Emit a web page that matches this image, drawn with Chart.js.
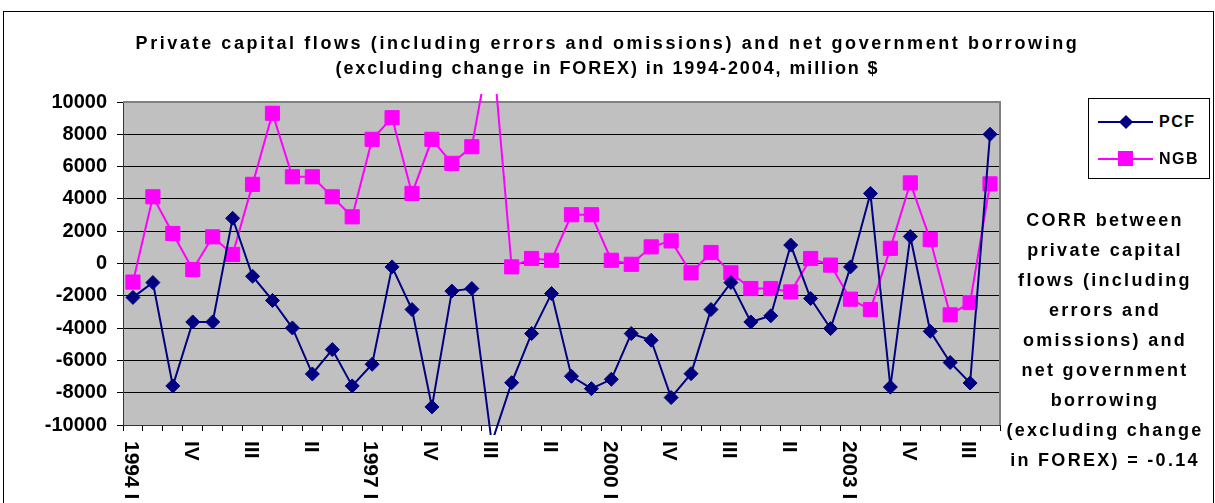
<!DOCTYPE html>
<html>
<head>
<meta charset="utf-8">
<script src="https://cdn.jsdelivr.net/npm/chart.js@4.4.0/dist/chart.umd.min.js"></script>
<style>
  html, body { margin: 0; padding: 0; background: #fff; }
  body { width: 1215px; height: 503px; position: relative; overflow: hidden;
         font-family: 'Liberation Sans', Arial, sans-serif; font-weight: bold; color: #000; }
  #frame { position: absolute; left: 3px; top: 11px; width: 1209px; height: 500px; border: 1px solid #000; }
  #chart { position: absolute; left: 0; top: 0; }
  #title { position: absolute; left: 0; top: 31px; width: 1215px; text-align: center;
           font-size: 18px; line-height: 25px; white-space: nowrap; }
  #title .l1 { letter-spacing: 2.6px; }
  #title .l2 { letter-spacing: 1.9px; }
  #legend { position: absolute; left: 1088px; top: 98px; width: 120px; height: 79px;
            border: 1px solid #000; background: #fff; }
  .item { position: absolute; left: 0; width: 120px; height: 20px; }
  .item .ln { position: absolute; left: 9px; top: 9px; width: 55px; height: 2px; }
  .item .mk { position: absolute; }
  .item .tx { position: absolute; left: 70px; top: 0; font-size: 16px; line-height: 20px; letter-spacing: 1.5px; }
  #corr { position: absolute; left: 1005px; top: 205px; width: 200px; text-align: center;
          font-size: 18px; line-height: 30px; letter-spacing: 2.3px; white-space: nowrap; }
</style>
</head>
<body>
<div id="frame"></div>
<canvas id="chart" width="1215" height="503"></canvas>
<div id="title"><span class="l1">Private capital flows (including errors and omissions) and net government borrowing</span><br><span class="l2">(excluding change in FOREX) in 1994-2004, million $</span></div>
<div id="legend">
  <div class="item" style="top:13px">
    <div class="ln" style="background:#000080"></div>
    <div class="mk" style="left:32px;top:5px;width:10px;height:10px;background:#000080;transform:rotate(45deg)"></div>
    <div class="tx">PCF</div>
  </div>
  <div class="item" style="top:50px">
    <div class="ln" style="background:#ff00ff"></div>
    <div class="mk" style="left:29px;top:2px;width:15px;height:15px;background:#ff00ff"></div>
    <div class="tx">NGB</div>
  </div>
</div>
<div id="corr">CORR between<br>private capital<br>flows (including<br>errors and<br>omissions) and<br>net government<br>borrowing<br>(excluding change<br>in FOREX) = -0.14</div>
<script>
// quarters 1994 I .. 2004 IV
const quarters = [
  '1994 I', 'II', 'III', 'IV',
  '1995 I', 'II', 'III', 'IV',
  '1996 I', 'II', 'III', 'IV',
  '1997 I', 'II', 'III', 'IV',
  '1998 I', 'II', 'III', 'IV',
  '1999 I', 'II', 'III', 'IV',
  '2000 I', 'II', 'III', 'IV',
  '2001 I', 'II', 'III', 'IV',
  '2002 I', 'II', 'III', 'IV',
  '2003 I', 'II', 'III', 'IV',
  '2004 I', 'II', 'III', 'IV'
];

// private capital flows, million $
const pcf = [
  -2100, -1180, -7580, -3620, -3620, 2800, -790, -2290, -3990, -6840, -5330,
  -7580, -6240, -210, -2850, -8880, -1710, -1550, -11100, -7380, -4340, -1860,
  -6980, -7750, -7170, -4340, -4750, -8300, -6820, -2850, -1180, -3620, -3240,
  1140, -2170, -4030, -210, 4340, -7650, 1670, -4200, -6130, -7400, 8000
];

// net government borrowing, million $
const ngb = [
  -1150, 4130, 1860, -370, 1650, 560, 4900, 9300, 5370, 5370, 4130,
  2890, 7690, 9030, 4340, 7690, 6200, 7230, 14000, -210, 310, 200,
  3020, 3020, 200, -50, 1030, 1400, -580, 680, -580, -1550, -1550,
  -1760, 310, -100, -2210, -2850, 940, 4990, 1480, -3180, -2420, 4930
];

const yMin = -10000, yMax = 10000, yStep = 2000;
const labelEvery = 3;

// grey plot area, frame, and the vertical quarter labels
const plotFrame = {
  id: 'plotFrame',
  beforeDraw(chart) {
    const { ctx, chartArea: a } = chart;
    ctx.save();
    ctx.fillStyle = '#c0c0c0';
    ctx.fillRect(a.left, a.top, a.right - a.left, a.bottom - a.top);
    ctx.restore();
  },
  beforeDatasetsDraw(chart) {
    const { ctx, chartArea: a } = chart;
    ctx.save();
    ctx.strokeStyle = '#808080';
    ctx.lineWidth = 2;
    ctx.beginPath();
    ctx.moveTo(a.left, a.top);
    ctx.lineTo(a.right, a.top);
    ctx.lineTo(a.right, a.bottom);
    ctx.stroke();
    ctx.restore();
  },
  afterDraw(chart) {
    const { ctx } = chart;
    const xs = chart.scales.x;
    ctx.save();
    ctx.fillStyle = '#000';
    ctx.font = 'bold 21px "Liberation Sans", Arial, sans-serif';
    ctx.textAlign = 'left';
    ctx.textBaseline = 'middle';
    quarters.forEach((q, i) => {
      if (i % labelEvery !== 0) return;
      const x = xs.getPixelForValue(i);
      ctx.save();
      ctx.translate(x - 2, xs.top + 16);
      ctx.rotate(Math.PI / 2);
      ctx.fillText(q, 0, 0);
      ctx.restore();
    });
    ctx.restore();
  }
};

new Chart(document.getElementById('chart'), {
  type: 'line',
  data: {
    labels: quarters,
    datasets: [
      {
        label: 'PCF', data: pcf,
        borderColor: '#000080', backgroundColor: '#000080', borderWidth: 2,
        pointStyle: 'rectRot', pointRadius: 7, pointBorderWidth: 1,
        pointBorderColor: '#000080', pointBackgroundColor: '#000080',
        tension: 0, clip: { left: 0, top: 8, right: 0, bottom: 10 }
      },
      {
        label: 'NGB', data: ngb,
        borderColor: '#ff00ff', backgroundColor: '#ff00ff', borderWidth: 2,
        pointStyle: 'rect', pointRadius: 10, pointBorderWidth: 1,
        pointBorderColor: '#ff00ff', pointBackgroundColor: '#ff00ff',
        tension: 0, clip: { left: 0, top: 8, right: 0, bottom: 10 }
      }
    ]
  },
  options: {
    responsive: false,
    animation: false,
    devicePixelRatio: 1,
    layout: { padding: { left: 0, top: 102, right: 215, bottom: 0 } },
    plugins: { legend: { display: false }, tooltip: { enabled: false }, title: { display: false } },
    scales: {
      x: {
        offset: true,
        grid: { offset: true, drawOnChartArea: false, drawTicks: true, tickLength: 6, color: '#000' },
        border: { color: '#333', width: 1 },
        ticks: { display: false },
        afterFit(s) { s.height = 78; }
      },
      y: {
        min: yMin, max: yMax,
        grid: { color: '#000', lineWidth: 1, tickLength: 6 },
        border: { color: '#333', width: 1 },
        ticks: {
          stepSize: yStep, padding: 10, color: '#000',
          font: { family: '"Liberation Sans", Arial, sans-serif', size: 20, weight: 'bold' },
          callback: v => String(v)
        },
        afterFit(s) { s.width = 123; }
      }
    }
  },
  plugins: [plotFrame]
});
</script>
</body>
</html>
